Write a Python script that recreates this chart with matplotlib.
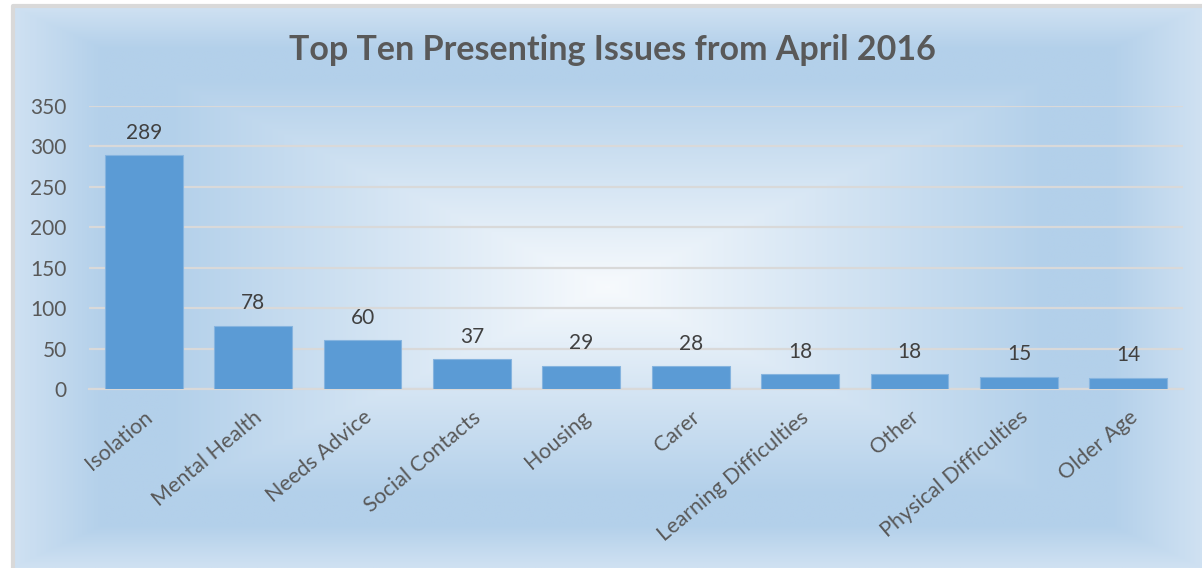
import numpy as np
import matplotlib.pyplot as plt
from matplotlib.colors import LinearSegmentedColormap

issues = ["Isolation", "Mental Health", "Needs Advice", "Social Contacts", "Housing",
          "Carer", "Learning Difficulties", "Other", "Physical Difficulties", "Older Age"]
counts = [289, 78, 60, 37, 29, 28, 18, 18, 15, 14]
yticks = [0, 50, 100, 150, 200, 250, 300, 350]

W, H = 1202, 568
fig = plt.figure(figsize=(W / 100, H / 100), dpi=100)
fig.patch.set_facecolor("white")

# chart area with a centre-out (rectangular path) gradient fill
x0, y0 = 13, 6
bg = fig.add_axes([x0 / W, 0, 1 - x0 / W, 1 - y0 / H])
bg.set_axis_off()
gx, gy = np.meshgrid(np.linspace(-1, 1, 800), np.linspace(-1, 1, 400))
t = np.maximum(np.abs(gx), np.abs(gy))
cmap = LinearSegmentedColormap.from_list(
    "fill", [(0, "#f7fafd"), (0.74, "#b3d0ea"), (0.85, "#b3d0ea"), (1.0, "#cfe1f2")])
bg.imshow(t, cmap=cmap, vmin=0, vmax=1, aspect="auto", extent=[0, 1, 0, 1],
          origin="lower", interpolation="bilinear")
bg.set_xlim(0, 1)
bg.set_ylim(0, 1)
bg.plot([0, 0, 1], [0, 1, 1], color="#d9d9d9", lw=3, transform=bg.transAxes, clip_on=False)

ax = fig.add_axes([89 / W, (H - 389) / H, (1183 - 89) / W, (389 - 106) / H])
ax.patch.set_alpha(0)
x = np.arange(len(issues))
ax.bar(x, counts, width=0.71, color="#5b9bd5", edgecolor="#86b4df", linewidth=0.8, zorder=3)
ax.set_xlim(-0.5, len(issues) - 0.5)
ax.set_ylim(0, 350)
ax.set_yticks(yticks)
ax.grid(axis="y", color="#d9d9d9", lw=1.6, zorder=0)
for s in ["top", "right", "left"]:
    ax.spines[s].set_visible(False)
ax.spines["bottom"].set_color("#d9d9d9")
ax.spines["bottom"].set_linewidth(1.6)
ax.tick_params(length=0, labelcolor="#595959")
ax.tick_params(axis="y", pad=16, labelsize=15)
ax.tick_params(axis="x", pad=13)
ax.set_xticks(x)
ax.set_xticklabels(issues, rotation=40, ha="right", va="top", rotation_mode="anchor",
                   fontsize=15.5, color="#595959")
for lab in ax.get_yticklabels() + ax.get_xticklabels():
    lab.set_fontfamily("Lato")

for xi, v in zip(x, counts):
    ax.annotate(str(v), (xi, v), xytext=(0, 9), textcoords="offset points",
                ha="center", va="bottom", fontsize=15, color="#404040", family="Lato")

fig.text(612 / W, 1 - 50 / H, "Top Ten Presenting Issues from April 2016", ha="center",
         va="center", fontsize=24.5, fontweight="bold", color="#595959", family="Lato")

fig.savefig("out.png", dpi=100)
